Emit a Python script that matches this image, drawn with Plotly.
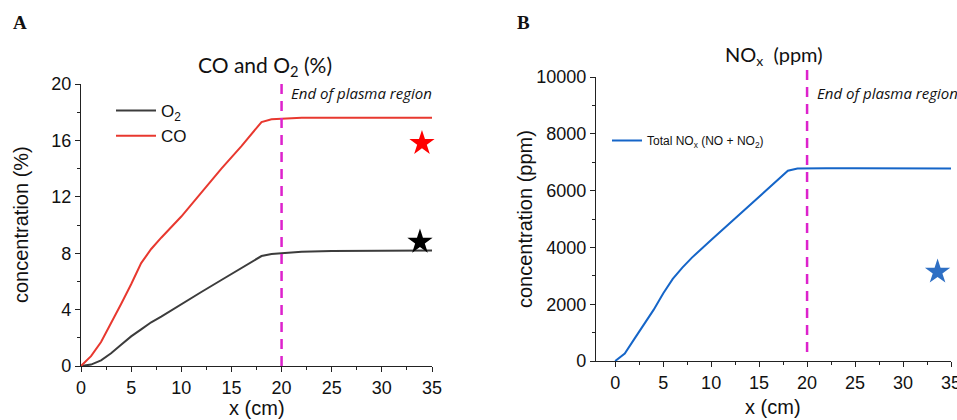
import plotly.graph_objects as go

# ---- data ----
x_a = [0, 1, 2, 3, 4, 5, 6, 7, 8, 10, 12, 14, 16, 18, 19, 20, 22, 25, 30, 35]
co = [0, 0.7, 1.7, 3.0, 4.4, 5.8, 7.3, 8.3, 9.1, 10.6, 12.3, 14.0, 15.6, 17.3, 17.5, 17.55, 17.6, 17.6, 17.6, 17.6]
o2 = [0, 0.1, 0.4, 0.9, 1.5, 2.1, 2.6, 3.1, 3.5, 4.4, 5.25, 6.1, 6.95, 7.8, 7.95, 8.0, 8.1, 8.15, 8.2, 8.2]
star_a_x = [34.0, 33.8]
star_a_y = [15.8, 8.8]

x_b = [0, 1, 2, 3, 4, 5, 6, 7, 8, 10, 12, 14, 16, 18, 19, 20, 22, 25, 30, 35]
nox = [0, 260, 780, 1300, 1800, 2380, 2890, 3290, 3640, 4260, 4870, 5480, 6090, 6700, 6780, 6790, 6790, 6790, 6790, 6780]
star_b_x = [33.6]
star_b_y = [3140]

plasma_end = 20

W, H = 957, 420
def px(v): return v / W
def py(v): return 1 - v / H

fig = go.Figure()

fig.add_trace(go.Scatter(x=x_a, y=o2, mode="lines", name="O<sub>2</sub>",
                         line=dict(color="#3c3c3c", width=2), xaxis="x", yaxis="y", legend="legend"))
fig.add_trace(go.Scatter(x=x_a, y=co, mode="lines", name="CO",
                         line=dict(color="#e8382f", width=2), xaxis="x", yaxis="y", legend="legend"))
fig.add_trace(go.Scatter(x=star_a_x, y=star_a_y, mode="markers", showlegend=False,
                         marker=dict(symbol="star", size=19, color=["#ff0000", "#000000"], line=dict(width=0)),
                         xaxis="x", yaxis="y", cliponaxis=False))

fig.add_trace(go.Scatter(x=x_b, y=nox, mode="lines", name="Total NO<sub>x</sub> (NO + NO<sub>2</sub>)",
                         line=dict(color="#1565c8", width=2), xaxis="x2", yaxis="y2", legend="legend2"))
fig.add_trace(go.Scatter(x=star_b_x, y=star_b_y, mode="markers", showlegend=False,
                         marker=dict(symbol="star", size=19, color="#2e6fc4", line=dict(width=0)),
                         xaxis="x2", yaxis="y2", cliponaxis=False))

tickfont = dict(family="Liberation Sans, Arial", size=18, color="#111")
axis_common = dict(showline=True, linecolor="#222", linewidth=1.2, ticks="outside", ticklen=5,
                   tickcolor="#222", showgrid=False, zeroline=False, tickfont=tickfont,
                   automargin=False, tickformat="d", ticklabeloverflow="allow")

fig.update_layout(
    template="none",
    width=W, height=H, margin=dict(l=0, r=0, t=0, b=0, pad=0), autosize=False,
    paper_bgcolor="white", plot_bgcolor="white",
    xaxis=dict(domain=[px(81), px(432)], range=[0, 35], dtick=5, tick0=0, anchor="y",
               minor=dict(dtick=2.5, ticklen=3, ticks="outside", tickcolor="#222"), **axis_common),
    yaxis=dict(domain=[py(366), py(84)], range=[0, 20], dtick=4, tick0=0, anchor="x",
               minor=dict(dtick=2, ticklen=3, ticks="outside", tickcolor="#222"), **axis_common),
    xaxis2=dict(domain=[px(596), px(951)], range=[-2, 35], dtick=5, tick0=0, anchor="y2",
                minor=dict(dtick=2.5, ticklen=3, ticks="outside", tickcolor="#222"), **axis_common),
    yaxis2=dict(domain=[py(361), py(77)], range=[0, 10000], dtick=2000, tick0=0, anchor="x2",
                minor=dict(dtick=1000, ticklen=3, ticks="outside", tickcolor="#222"), **axis_common),
    legend=dict(x=px(111), y=py(93), xanchor="left", yanchor="top", bgcolor="rgba(0,0,0,0)",
                font=dict(family="Liberation Sans, Arial", size=17, color="#111"),
                itemwidth=40, tracegroupgap=0),
    legend2=dict(x=px(607), y=py(126), xanchor="left", yanchor="top", bgcolor="rgba(0,0,0,0)",
                 font=dict(family="Liberation Sans, Arial", size=12, color="#111"),
                 itemwidth=30),
    showlegend=True,
)

dash = "10px,7px"
fig.add_shape(type="line", xref="x", yref="paper", x0=plasma_end, x1=plasma_end,
              y0=py(366), y1=py(83), line=dict(color="#dd22cc", width=2.5, dash=dash))
fig.add_shape(type="line", xref="x2", yref="paper", x0=plasma_end, x1=plasma_end,
              y0=py(352), y1=py(67), line=dict(color="#dd22cc", width=2.5, dash=dash))

ann_font = dict(family="Liberation Sans, Arial", color="#111")
annotations = [
    dict(text="<b>A</b>", x=px(20), y=py(22), font=dict(family="Liberation Serif, Times New Roman", size=19, color="#111")),
    dict(text="<b>B</b>", x=px(523), y=py(22), font=dict(family="Liberation Serif, Times New Roman", size=19, color="#111")),
    dict(text="CO and O<sub>2</sub> (%)", x=px(265), y=py(66), font=dict(family="Lato", size=21, color="#111")),
    dict(text="NO<sub>x</sub>  (ppm)", x=px(774), y=py(56), font=dict(family="Lato", size=20, color="#111")),
    dict(text="<i>End of plasma region</i>", x=px(289), y=py(93), xanchor="left",
         font=dict(family="Open Sans", size=15, color="#111")),
    dict(text="<i>End of plasma region</i>", x=px(815), y=py(93), xanchor="left",
         font=dict(family="Open Sans", size=15, color="#111")),
    dict(text="concentration (%)", x=px(21), y=py(225), textangle=-90, font=dict(size=20, **ann_font)),
    dict(text="concentration (ppm)", x=px(525), y=py(219), textangle=-90, font=dict(size=20, **ann_font)),
    dict(text="x (cm)", x=px(257), y=py(408), font=dict(size=20, **ann_font)),
    dict(text="x (cm)", x=px(773), y=py(407), font=dict(size=20, **ann_font)),
]
for a in annotations:
    a.setdefault("xanchor", "center")
    fig.add_annotation(xref="paper", yref="paper", showarrow=False, yanchor="middle", **a)

fig.write_html("out.html", config={"displayModeBar": False},
               post_script="document.body.style.margin='0px';document.body.style.overflow='hidden';")
